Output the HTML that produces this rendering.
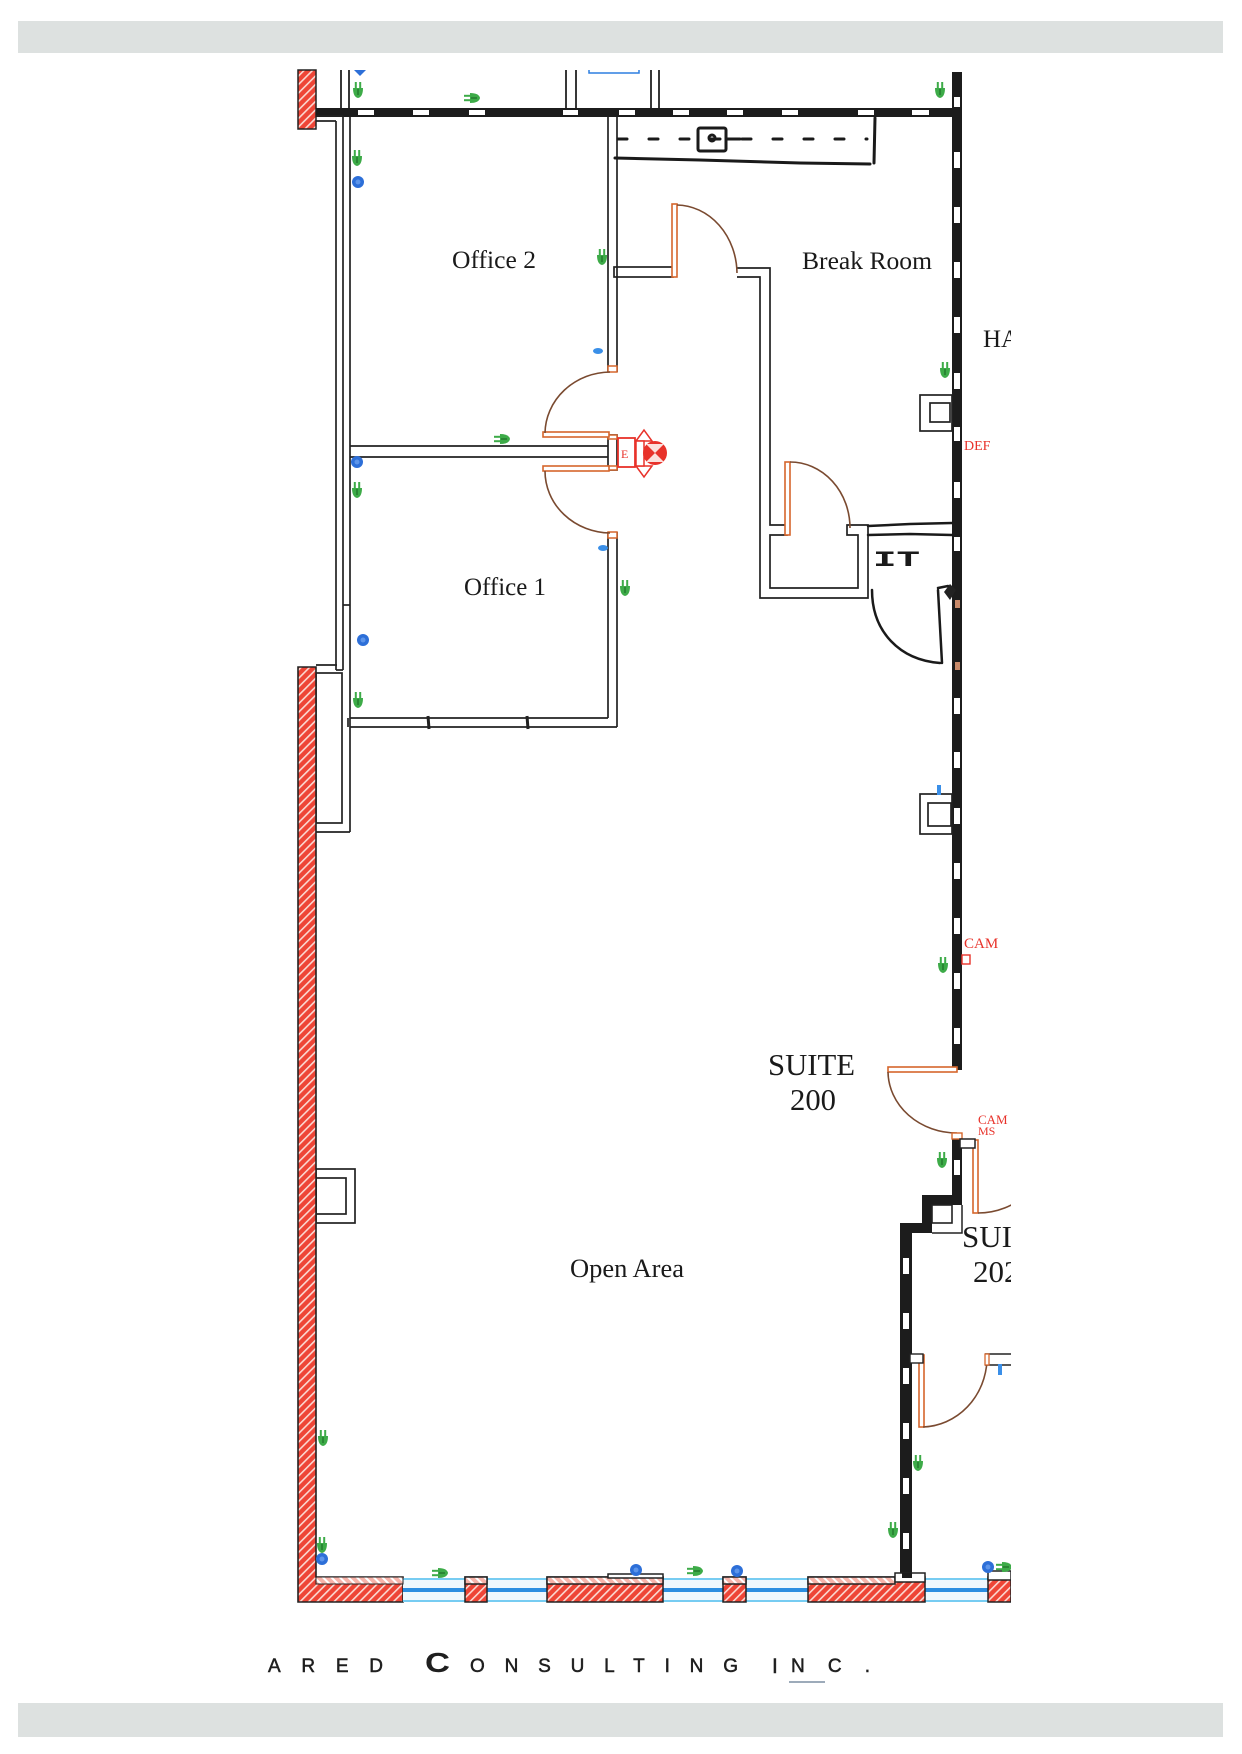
<!DOCTYPE html>
<html><head><meta charset="utf-8"><style>
html,body{margin:0;padding:0;background:#fff;}
svg{display:block;}
</style></head><body>
<svg width="1242" height="1754" viewBox="0 0 1242 1754" xmlns="http://www.w3.org/2000/svg">
<defs>
<pattern id="hatch" patternUnits="userSpaceOnUse" width="6" height="6" patternTransform="rotate(45)">
<rect width="6" height="6" fill="#ee4536"/><rect width="1.6" height="6" fill="#fbd9d2"/>
</pattern>
<pattern id="hatch2" patternUnits="userSpaceOnUse" width="6" height="6" patternTransform="rotate(-45)">
<rect width="6" height="6" fill="#f7b3a9"/><rect width="2" height="6" fill="#fff"/>
</pattern>
<clipPath id="clip"><rect x="0" y="60" width="1011" height="1560"/></clipPath>
<g id="gi"><path d="M-5,-2 Q-5,7 0,8 Q5,7 5,-2 Z" fill="#3dab48"/><rect x="-3.2" y="-8" width="2" height="8" fill="#3dab48"/><rect x="1.2" y="-8" width="2" height="8" fill="#3dab48"/><rect x="-0.6" y="-1" width="1.2" height="6" fill="#1f6e28"/></g>
<g id="bc"><circle r="6" fill="#2d6fd8"/><circle r="2.5" fill="#5d95ea"/></g>
</defs>

<!-- bars -->
<rect x="18" y="21" width="1205" height="32" fill="#dde1e0"/>
<rect x="18" y="1703" width="1205" height="34" fill="#dde1e0"/>

<g clip-path="url(#clip)">
<!-- top-left red block -->
<rect x="298" y="70" width="18" height="59" fill="url(#hatch)" stroke="#222" stroke-width="1.5"/>

<!-- lines above top wall -->
<g stroke="#222" stroke-width="1.8">
<line x1="341" y1="70" x2="341" y2="108"/><line x1="349" y1="70" x2="349" y2="108"/>
<line x1="566" y1="70" x2="566" y2="108"/><line x1="576" y1="70" x2="576" y2="108"/>
<line x1="651" y1="70" x2="651" y2="108"/><line x1="659" y1="70" x2="659" y2="108"/>
</g>
<path d="M589,70 L589,73 L639,73 L639,70" fill="none" stroke="#2d7fe0" stroke-width="1.5"/>

<!-- top wall -->
<rect x="316" y="108" width="646" height="9" fill="#1c1c1c"/>
<g fill="#fff">
<rect x="358" y="110" width="16" height="5"/><rect x="413" y="110" width="16" height="5"/>
<rect x="469" y="110" width="16" height="5"/><rect x="563" y="110" width="15" height="5"/>
<rect x="619" y="110" width="16" height="5"/><rect x="673" y="110" width="16" height="5"/>
<rect x="727" y="110" width="16" height="5"/><rect x="782" y="110" width="16" height="5"/>
<rect x="858" y="110" width="16" height="5"/><rect x="912" y="110" width="17" height="5"/>
</g>

<!-- right wall -->
<rect x="952" y="72" width="10" height="998" fill="#1c1c1c"/>
<g fill="#fff">
<rect x="954" y="97" width="6" height="10"/>
<rect x="954" y="152" width="6" height="16"/><rect x="954" y="207" width="6" height="16"/>
<rect x="954" y="262" width="6" height="16"/><rect x="954" y="317" width="6" height="16"/>
<rect x="954" y="373" width="6" height="16"/><rect x="954" y="427" width="6" height="14"/>
<rect x="954" y="482" width="6" height="16"/><rect x="954" y="537" width="6" height="14"/>
<rect x="954" y="698" width="6" height="16"/><rect x="954" y="752" width="6" height="16"/>
<rect x="954" y="808" width="6" height="16"/><rect x="954" y="863" width="6" height="16"/>
<rect x="954" y="918" width="6" height="16"/><rect x="954" y="973" width="6" height="16"/>
<rect x="954" y="1028" width="6" height="16"/>
</g>
<rect x="955" y="600" width="5" height="8" fill="#c98a6a"/>
<rect x="955" y="662" width="5" height="8" fill="#c98a6a"/>
<path d="M944,592 L950,584 L956,590 L950,600 Z" fill="#222"/>

<!-- wall lines -->
<g stroke="#222" stroke-width="1.7" fill="none">
<line x1="316" y1="116" x2="343" y2="116"/><line x1="316" y1="121" x2="336" y2="121"/>
<line x1="336" y1="121" x2="336" y2="670"/><line x1="343" y1="116" x2="343" y2="670"/>
<line x1="350" y1="117" x2="350" y2="832"/>
<line x1="343" y1="605" x2="350" y2="605"/>
<line x1="316" y1="665" x2="337" y2="665"/><line x1="336" y1="670" x2="343" y2="670"/>
<rect x="316" y="673" width="26" height="150"/>
<line x1="316" y1="832" x2="350" y2="832"/>
<line x1="608" y1="117" x2="608" y2="372"/><line x1="617" y1="117" x2="617" y2="372"/>
<rect x="614" y="267" width="59" height="10"/>
<line x1="350" y1="446" x2="608" y2="446"/><line x1="350" y1="457" x2="608" y2="457"/>
<rect x="608" y="435" width="9" height="35"/>
<line x1="608" y1="532" x2="608" y2="718"/><line x1="617" y1="532" x2="617" y2="727"/>
<line x1="350" y1="718" x2="608" y2="718"/><line x1="350" y1="727" x2="617" y2="727"/>
<line x1="348" y1="718" x2="348" y2="727"/>
<polyline points="737,268 770,268 770,525 787,525 787,535 770,535 770,588 858,588 858,535 847,535 847,525 868,525 868,598 760,598 760,277 737,277"/>
<rect x="920" y="395" width="32" height="36"/><rect x="930" y="403" width="20" height="19"/>
<rect x="920" y="794" width="32" height="40"/><rect x="928" y="803" width="23" height="23"/>
<rect x="316" y="1169" width="39" height="54"/><rect x="316" y="1178" width="30" height="36"/>
</g>
<g stroke="#222" stroke-width="3" fill="none">
<line x1="428" y1="716" x2="429" y2="729"/><line x1="527" y1="716" x2="528" y2="729"/>
</g>

<!-- orange caps -->
<g fill="#fff" stroke="#d5662c" stroke-width="1.5">
<rect x="608" y="366" width="9" height="6"/><rect x="608" y="532" width="9" height="6"/>
<rect x="608" y="435" width="9" height="4"/><rect x="608" y="466" width="9" height="4"/>
</g>

<!-- doors -->
<g fill="#fff" stroke="#d5662c" stroke-width="1.6">
<rect x="543" y="432" width="66" height="5"/>
<rect x="543" y="466" width="66" height="5"/>
<rect x="672" y="204" width="5" height="73"/>
<rect x="785" y="462" width="5" height="73"/>
<rect x="888" y="1067" width="69" height="5"/>
<rect x="973" y="1140" width="5" height="73"/>
<rect x="919" y="1355" width="5" height="72"/>
</g>
<g fill="none" stroke="#7a4a30" stroke-width="1.6">
<path d="M545,433 A66,62 0 0 1 610,372"/>
<path d="M545,471 A66,62 0 0 0 610,533"/>
<path d="M677,205 A61,69 0 0 1 737,273"/>
<path d="M790,462 A60,66 0 0 1 850,528"/>
<path d="M888,1072 A69,62 0 0 0 957,1133"/>
<path d="M978,1213 A73,73 0 0 0 1051,1140"/>
<path d="M923,1427 A66,70 0 0 0 987,1360"/>
</g>

<!-- break room counter -->
<g stroke="#1a1a1a" stroke-width="3" fill="none" stroke-linecap="round">
<line x1="618" y1="139" x2="867" y2="139" stroke-dasharray="9,22"/>
<path d="M615,158 L700,160 L800,163 L870,164"/>
<line x1="875" y1="118" x2="874" y2="163"/>
<rect x="698" y="128" width="28" height="23" rx="2"/>
<circle cx="712" cy="138" r="3"/>
<line x1="727" y1="139" x2="740" y2="139"/>
</g>

<!-- IT room -->
<g stroke="#1a1a1a" stroke-width="2.5" fill="none" stroke-linecap="round">
<path d="M868,526 L910,524 L952,523"/>
<path d="M868,535 L910,534 L952,535"/>
<path d="M872,590 C872,632 900,660 940,663"/>
<path d="M938,590 L942,663"/>
<path d="M938,588 L948,586"/>
</g>
<text x="873" y="566" font-family="Liberation Mono, monospace" font-size="22" font-weight="bold" fill="#1a1a1a" textLength="47" lengthAdjust="spacingAndGlyphs">IT</text>

<!-- lower right walls -->
<rect x="952" y="1133" width="10" height="72" fill="#1c1c1c"/>
<rect x="954" y="1160" width="6" height="15" fill="#fff"/>
<rect x="952" y="1133" width="10" height="6" fill="#fff" stroke="#d5662c" stroke-width="1.4"/>
<rect x="960" y="1139" width="15" height="9" fill="#fff" stroke="#222" stroke-width="1.5"/>
<rect x="922" y="1195" width="40" height="10" fill="#1c1c1c"/>
<rect x="922" y="1195" width="10" height="38" fill="#1c1c1c"/>
<rect x="900" y="1223" width="32" height="10" fill="#1c1c1c"/>
<rect x="932" y="1205" width="20" height="18" fill="#fff" stroke="#222" stroke-width="1.6"/>
<path d="M932,1233 L962,1233 L962,1205" fill="none" stroke="#222" stroke-width="1.5"/>
<rect x="900" y="1223" width="12" height="355" fill="#1c1c1c"/>
<g fill="#fff">
<rect x="903" y="1258" width="6" height="16"/><rect x="903" y="1313" width="6" height="16"/>
<rect x="903" y="1368" width="6" height="16"/><rect x="903" y="1423" width="6" height="16"/>
<rect x="903" y="1478" width="6" height="16"/><rect x="903" y="1533" width="6" height="16"/>
</g>
<rect x="910" y="1354" width="13" height="9" fill="#fff" stroke="#222" stroke-width="1.4"/>
<g stroke="#222" stroke-width="1.6"><line x1="985" y1="1354" x2="1011" y2="1354"/><line x1="985" y1="1365" x2="1011" y2="1365"/></g>
<rect x="985" y="1354" width="4" height="11" fill="#fff" stroke="#d5662c" stroke-width="1.3"/>

<!-- red left wall + bottom corner -->
<path d="M298,667 L316,667 L316,1577 L403,1577 L403,1602 L298,1602 Z" fill="url(#hatch)" stroke="#222" stroke-width="1.6"/>
<line x1="316" y1="1584" x2="403" y2="1584" stroke="#222" stroke-width="1"/>

<!-- windows -->
<g>
<rect x="403" y="1578" width="62" height="24" fill="#eef8fd"/>
<rect x="487" y="1578" width="60" height="24" fill="#eef8fd"/>
<rect x="663" y="1578" width="60" height="24" fill="#eef8fd"/>
<rect x="746" y="1578" width="62" height="24" fill="#eef8fd"/>
<rect x="925" y="1578" width="63" height="24" fill="#eef8fd"/>
<g stroke="#66c6f0" stroke-width="1.8">
<line x1="403" y1="1579" x2="465" y2="1579"/><line x1="403" y1="1601" x2="465" y2="1601"/>
<line x1="487" y1="1579" x2="547" y2="1579"/><line x1="487" y1="1601" x2="547" y2="1601"/>
<line x1="663" y1="1579" x2="723" y2="1579"/><line x1="663" y1="1601" x2="723" y2="1601"/>
<line x1="746" y1="1579" x2="808" y2="1579"/><line x1="746" y1="1601" x2="808" y2="1601"/>
<line x1="925" y1="1579" x2="988" y2="1579"/><line x1="925" y1="1601" x2="988" y2="1601"/>
</g>
<g stroke="#2b8ee0" stroke-width="4">
<line x1="403" y1="1590" x2="465" y2="1590"/><line x1="487" y1="1590" x2="547" y2="1590"/>
<line x1="663" y1="1590" x2="723" y2="1590"/><line x1="746" y1="1590" x2="808" y2="1590"/>
<line x1="925" y1="1590" x2="988" y2="1590"/>
</g>
</g>

<!-- red piers / segments -->
<g stroke="#222" stroke-width="1.5">
<rect x="465" y="1577" width="22" height="25" fill="url(#hatch)"/>
<rect x="465" y="1577" width="22" height="7" fill="url(#hatch2)"/>
<rect x="547" y="1577" width="116" height="25" fill="url(#hatch)"/>
<rect x="547" y="1577" width="116" height="7" fill="url(#hatch2)"/>
<rect x="608" y="1574" width="55" height="4" fill="#fff"/>
<rect x="723" y="1577" width="23" height="25" fill="url(#hatch)"/>
<rect x="723" y="1577" width="23" height="7" fill="url(#hatch2)"/>
<rect x="808" y="1577" width="117" height="25" fill="url(#hatch)"/>
<rect x="808" y="1577" width="87" height="7" fill="url(#hatch2)"/>
<rect x="895" y="1573" width="30" height="9" fill="#fff"/>
<rect x="988" y="1577" width="23" height="25" fill="url(#hatch)"/>
<rect x="988" y="1571" width="23" height="9" fill="#fff"/>
</g>
<rect x="316" y="1577" width="87" height="7" fill="url(#hatch2)" stroke="#222" stroke-width="1"/>
<rect x="902" y="1573" width="10" height="5" fill="#1c1c1c"/>

<!-- exit sign -->
<g>
<rect x="618" y="438" width="17" height="29" fill="#fff" stroke="#e8322a" stroke-width="1.8"/>
<text x="621" y="458" font-family="Liberation Serif, serif" font-size="12" fill="#e8322a">E</text>
<path d="M636,441 L644,430 L652,441 Z" fill="#fff" stroke="#e8322a" stroke-width="1.5"/>
<path d="M636,466 L644,477 L652,466 Z" fill="#fff" stroke="#e8322a" stroke-width="1.5"/>
<rect x="636" y="441" width="8" height="25" fill="#fff" stroke="#e8322a" stroke-width="1.5"/>
<circle cx="655" cy="453" r="12" fill="#e8322a"/>
<path d="M646,444 L664,444 L655,453 Z" fill="#fbe0dc"/>
<path d="M646,462 L664,462 L655,453 Z" fill="#fbe0dc"/>
</g>

<!-- green icons -->
<use href="#gi" x="358" y="90"/>
<use href="#gi" x="940" y="90"/>
<use href="#gi" x="357" y="158"/>
<use href="#gi" x="602" y="257"/>
<use href="#gi" x="945" y="370"/>
<use href="#gi" x="357" y="490"/>
<use href="#gi" x="625" y="588"/>
<use href="#gi" x="358" y="700"/>
<use href="#gi" x="943" y="965"/>
<use href="#gi" x="942" y="1160"/>
<use href="#gi" x="323" y="1438"/>
<use href="#gi" x="322" y="1545"/>
<use href="#gi" x="918" y="1463"/>
<use href="#gi" x="893" y="1530"/>
<use href="#gi" transform="translate(472,98) rotate(-90)"/>
<use href="#gi" transform="translate(502,439) rotate(-90)"/>
<use href="#gi" transform="translate(440,1573) rotate(-90)"/>
<use href="#gi" transform="translate(695,1571) rotate(-90)"/>
<use href="#gi" transform="translate(1004,1567) rotate(-90)"/>

<!-- blue circles -->
<use href="#bc" x="358" y="182"/>
<use href="#bc" x="357" y="462"/>
<use href="#bc" x="363" y="640"/>
<use href="#bc" x="322" y="1559"/>
<use href="#bc" x="636" y="1570"/>
<use href="#bc" x="737" y="1571"/>
<use href="#bc" x="988" y="1567"/>
<path d="M354,70 L366,70 L360,76 Z" fill="#2d6fd8"/>
<g fill="#3a8fe8">
<ellipse cx="598" cy="351" rx="5" ry="3"/>
<ellipse cx="603" cy="548" rx="5" ry="3"/>
<rect x="937" y="785" width="4" height="10"/>
<rect x="998" y="1364" width="4" height="11"/>
</g>

<!-- red labels -->
<g font-family="Liberation Serif, serif" fill="#e8322a">
<text x="964" y="450" font-size="14">DEF</text>
<text x="964" y="948" font-size="15">CAM</text>
<text x="978" y="1124" font-size="13">CAM</text>
<text x="978" y="1135" font-size="12">MS</text>
</g>
<rect x="962" y="955" width="8" height="9" fill="#fff" stroke="#e8322a" stroke-width="1.4"/>

<!-- room labels -->
<g font-family="Liberation Serif, serif" fill="#1a1a1a">
<text x="452" y="268" font-size="25" textLength="84" lengthAdjust="spacingAndGlyphs">Office 2</text>
<text x="802" y="269" font-size="25" textLength="130" lengthAdjust="spacingAndGlyphs">Break Room</text>
<text x="983" y="347" font-size="25">HA</text>
<text x="464" y="595" font-size="25" textLength="82" lengthAdjust="spacingAndGlyphs">Office 1</text>
<text x="768" y="1075" font-size="31" textLength="87" lengthAdjust="spacingAndGlyphs">SUITE</text>
<text x="790" y="1110" font-size="31" textLength="46" lengthAdjust="spacingAndGlyphs">200</text>
<text x="962" y="1247" font-size="31">SUITE</text>
<text x="973" y="1282" font-size="31">202</text>
<text x="570" y="1277" font-size="26" textLength="114" lengthAdjust="spacingAndGlyphs">Open Area</text>
</g>
</g>

<!-- footer -->
<g font-family="Liberation Sans, sans-serif" fill="#1f1f1f" stroke="#1f1f1f" stroke-width="0.5">
<text x="268" y="1672" font-size="19" textLength="115" lengthAdjust="spacing">ARED</text>
<text x="425" y="1672" font-size="28" font-weight="bold" stroke-width="0" textLength="25" lengthAdjust="spacingAndGlyphs">C</text>
<text x="470" y="1672" font-size="19" textLength="268" lengthAdjust="spacing">ONSULTING</text>
<text x="772" y="1673" font-size="21">I</text>
<text x="791" y="1672" font-size="19" textLength="79" lengthAdjust="spacing">NC.</text>
</g>
<line x1="789" y1="1682" x2="825" y2="1682" stroke="#7d8fa3" stroke-width="1.5"/>
</svg>
</body></html>
